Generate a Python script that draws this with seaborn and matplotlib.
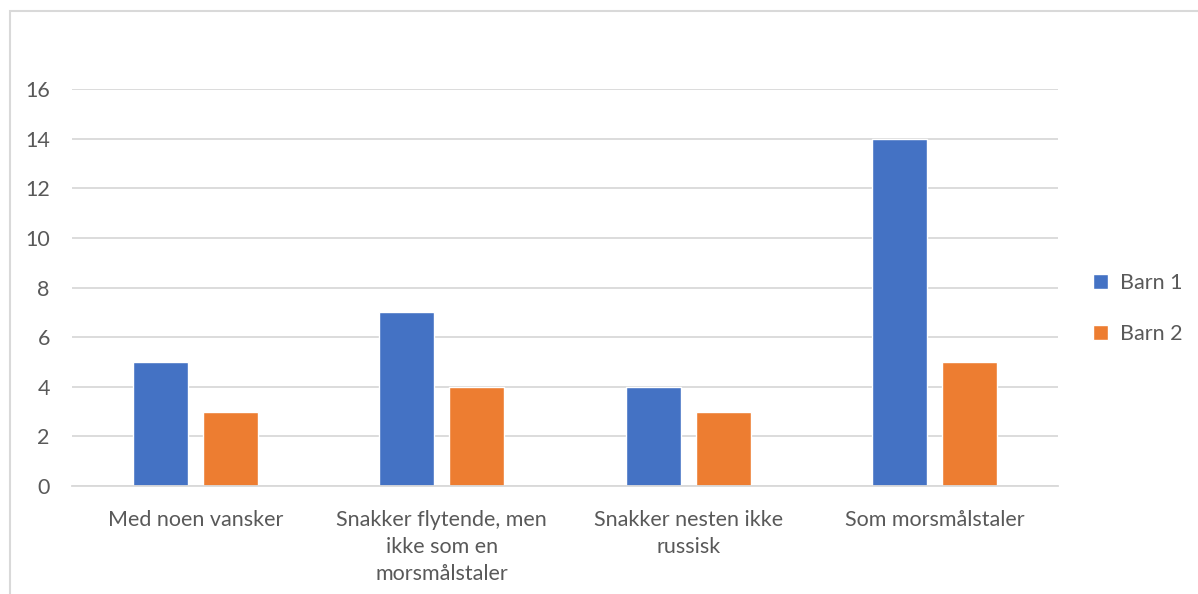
import matplotlib
matplotlib.use("Agg")
import matplotlib.pyplot as plt
from matplotlib.patches import Rectangle
import pandas as pd
import seaborn as sns

# Chart data
categories = [
    "Med noen vansker",
    "Snakker flytende, men\nikke som en\nmorsmålstaler",
    "Snakker nesten ikke\nrussisk",
    "Som morsmålstaler",
]
series_names = ["Barn 1", "Barn 2"]
barn1 = [5, 7, 4, 14]
barn2 = [3, 4, 3, 5]
y_ticks = [0, 2, 4, 6, 8, 10, 12, 14, 16]

df = pd.DataFrame({
    "kategori": categories * 2,
    "serie": [series_names[0]] * len(categories) + [series_names[1]] * len(categories),
    "antall": barn1 + barn2,
})

sns.set_theme(style="white")
plt.rcParams["font.family"] = ["Lato", "DejaVu Sans"]

text_color = "#595959"
grid_color = "#d9d9d9"
palette = {"Barn 1": "#4472C4", "Barn 2": "#ED7D31"}
font_size = 15.5

fig = plt.figure(figsize=(11.98, 5.94), dpi=100)
ax = fig.add_axes([72 / 1198, 1 - 486 / 594, (1058 - 72) / 1198, (486 - 89) / 594])

sns.barplot(data=df, x="kategori", y="antall", hue="serie", palette=palette,
            width=0.568, gap=0.214, saturation=1, ax=ax, legend=True)

ax.set_ylim(0, 16)
ax.set_xlim(-0.5, len(categories) - 0.5)
ax.set_yticks(y_ticks)
ax.set_xlabel("")
ax.set_ylabel("")
ax.yaxis.grid(True, color=grid_color, linewidth=1.3)
ax.set_axisbelow(True)
for side in ["top", "right", "left"]:
    ax.spines[side].set_visible(False)
ax.spines["bottom"].set_color(grid_color)
ax.spines["bottom"].set_linewidth(1.3)
ax.tick_params(axis="both", length=0, labelsize=font_size, labelcolor=text_color)
ax.tick_params(axis="y", pad=16)
ax.tick_params(axis="x", pad=17)
for lbl in ax.get_xticklabels():
    lbl.set_linespacing(1.45)

handles, labels = ax.get_legend_handles_labels()
ax.legend(handles, labels, loc="center left", bbox_to_anchor=(1.016, 0.447),
          frameon=False, fontsize=font_size, labelcolor=text_color,
          handlelength=0.7, handleheight=0.7, handletextpad=0.55,
          labelspacing=1.42)

# Outer chart frame
fig.patches.append(Rectangle((9.5 / 1198, -0.1), 1.2, 1 - 10.5 / 594 + 0.1,
                             transform=fig.transFigure, fill=False,
                             edgecolor=grid_color, linewidth=1.5))

fig.savefig("out.png", dpi=100)
